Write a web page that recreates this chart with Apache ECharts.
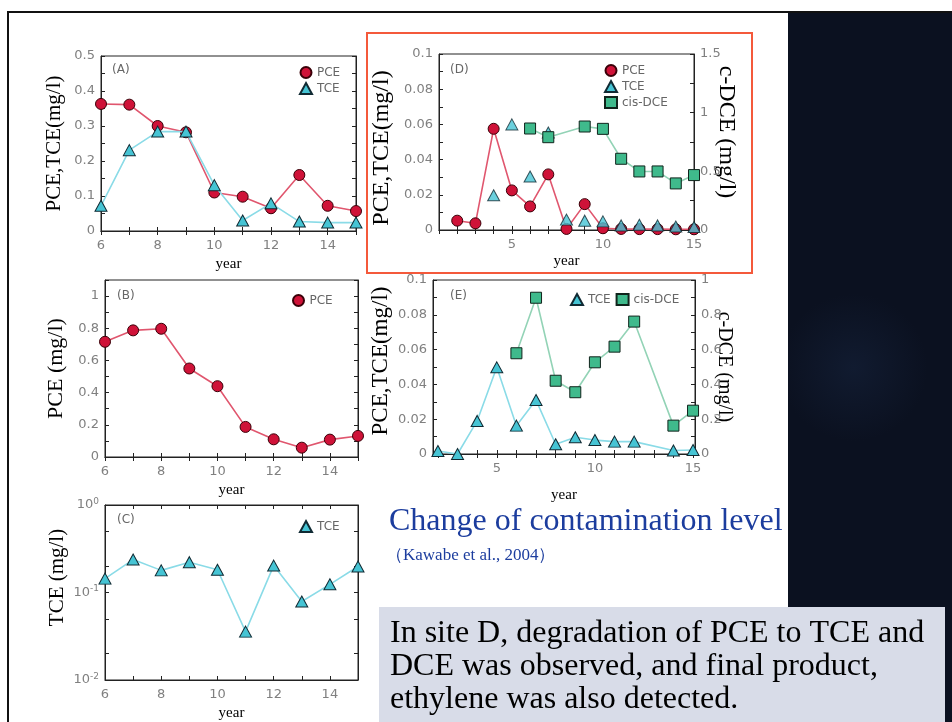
<!DOCTYPE html>
<html><head><meta charset="utf-8">
<script src="https://cdn.jsdelivr.net/npm/echarts@6/dist/echarts.min.js"></script>
<style>html,body{margin:0;padding:0;background:#fff}#c{width:952px;height:722px}</style>
</head><body><div id="c"></div>
<script>
// ---- data ----
const yearsA = [6,7,8,9,10,11,12,13,14,15];
const pceA = [0.363,0.361,0.300,0.282,0.110,0.098,0.065,0.160,0.072,0.057];
const tceA = [0.072,0.231,0.284,0.284,0.131,0.030,0.079,0.027,0.024,0.024];
const yearsB = [6,7,8,9,10,11,12,13,14,15];
const pceB = [0.716,0.787,0.797,0.550,0.440,0.187,0.110,0.058,0.108,0.131];
const yearsC = [6,7,8,9,10,11,12,13,14,15];
const tceC = [0.144,0.238,0.179,0.222,0.182,0.0357,0.203,0.0789,0.124,0.198];
const yearsDpce = [2,3,4,5,6,7,8,9,10,11,12,13,14,15];
const pceD = [0.0053,0.0038,0.0575,0.0225,0.0134,0.0316,0.0006,0.0147,0.0010,0.0006,0.0005,0.0005,0.0004,0.0004];
const yearsDtce = [4,5,6,7,8,9,10,11,12,13,14,15];
const tceD = [0.0197,0.0600,0.0304,0.0554,0.0059,0.0053,0.0049,0.0026,0.0030,0.0026,0.0020,0.0017];
const yearsDdce = [6,7,9,10,11,12,13,14,15];
const dceD = [0.865,0.791,0.882,0.862,0.607,0.499,0.499,0.397,0.468];
const yearsEtce = [2,3,4,5,6,7,8,9,10,11,12,14,15];
const tceE = [0.0017,0.0000,0.0190,0.0498,0.0163,0.0310,0.0056,0.0096,0.0080,0.0071,0.0071,0.0020,0.0023];
const yearsEdce = [6,7,8,9,10,11,12,14,15];
const dceE = [0.579,0.898,0.421,0.355,0.527,0.617,0.761,0.163,0.249];

const xLabA = [6,8,10,12,14];
const xLabD = [5,10,15];
const yLabA = [0,0.1,0.2,0.3,0.4,0.5];
const yLabB = [0,0.2,0.4,0.6,0.8,1];
const yLabC = [0.01,0.1,1];
const yLabDE = [0,0.02,0.04,0.06,0.08,0.1];
const yLabDr = [0,0.5,1,1.5];
const yLabEr = [0,0.2,0.4,0.6,0.8,1];

// ---- helpers ----
const steps = (a,b,s)=>{const r=[];for(let v=a;v<=b+1e-9;v+=s)r.push(+v.toFixed(4));return r;};
const zip = (xs,ys)=>xs.map((x,i)=>[x,ys[i]]);
const SANS = 'DejaVu Sans, Verdana, sans-serif';
const SERIF = 'Liberation Serif, Times New Roman, serif';
const lblStyle = {color:'#808080', fontSize:13, fontFamily:SANS};
const frame = '#222';

function xAxes(gi, min, max, tk, lb, gap){
  return [
    {type:'value', gridIndex:gi, min, max, position:'bottom',
     axisLine:{show:true, lineStyle:{color:frame}},
     axisTick:{show:true, inside:true, length:4, customValues:tk, lineStyle:{color:frame}},
     axisLabel:Object.assign({customValues:lb, margin:8}, lblStyle),
     splitLine:{show:false},
     name:'year', nameLocation:'middle', nameGap:gap, nameMoveOverlap:false,
     nameTextStyle:{fontFamily:SERIF, fontSize:15, color:'#000'}},
    {type:'value', gridIndex:gi, min, max, position:'top',
     axisLine:{show:true, lineStyle:{color:frame}},
     axisTick:{show:true, inside:true, length:4, customValues:tk, lineStyle:{color:frame}},
     axisLabel:{show:false}, splitLine:{show:false}}
  ];
}
function yAxis(gi, opt){
  const o = {type:opt.type||'value', gridIndex:gi, min:opt.min, max:opt.max, position:opt.pos,
    axisLine:{show:true, lineStyle:{color:frame}},
    axisTick:{show:true, inside:true, length:4, customValues:opt.tk, lineStyle:{color:frame}},
    axisLabel: opt.lb ? Object.assign({customValues:opt.lb, margin:opt.margin||6}, lblStyle, opt.fmt?{formatter:opt.fmt}:{}, opt.rich?{rich:opt.rich}:{}) : {show:false},
    splitLine:{show:false}};
  if (opt.type==='log') o.logBase = 10;
  if (opt.name){
    o.name = opt.name; o.nameLocation='middle'; o.nameGap=opt.gap; o.nameMoveOverlap=false;
    if (opt.rot!==undefined) o.nameRotate = opt.rot;
    o.nameTextStyle = {fontFamily:SERIF, fontSize:opt.fs||21, color:'#000',
      backgroundColor:opt.bg||'transparent', padding:opt.pad||0};
  }
  return o;
}

const C_PCE = '#cf1238', C_PCE_L = '#e0566e';
const C_TCE = '#46c4d4', C_TCE_L = '#8adbe7';
const C_DCE = '#3fba8c', C_DCE_L = '#93d3b6';

function pceSeries(xi, yi, data){
  return {type:'line', name:'PCE', xAxisIndex:xi, yAxisIndex:yi, data, clip:false,
    symbol:'circle', symbolSize:11,
    itemStyle:{color:C_PCE, borderColor:'#3a0008', borderWidth:1},
    lineStyle:{color:C_PCE_L, width:1.6}, z:3};
}
function tceSeries(xi, yi, data, noLine){
  return {type:noLine?'scatter':'line', name:'TCE', xAxisIndex:xi, yAxisIndex:yi, data, clip:false,
    symbol:'triangle', symbolSize:[12,11],
    itemStyle:{color:C_TCE, borderColor:'#102a33', borderWidth:1},
    lineStyle:{color:C_TCE_L, width:1.6}, z:4};
}
function dceSeries(xi, yi, data){
  return {type:'line', name:'cis-DCE', xAxisIndex:xi, yAxisIndex:yi, data, clip:false,
    symbol:'rect', symbolSize:11,
    itemStyle:{color:C_DCE, borderColor:'#10241c', borderWidth:1},
    lineStyle:{color:C_DCE_L, width:1.6}, z:5};
}

const gridBase = {show:true, borderColor:frame, borderWidth:1, backgroundColor:'transparent', containLabel:false};
const grids = [
  Object.assign({left:101, top:56, width:255, height:175}, gridBase), // A
  Object.assign({left:105, top:280, width:253, height:177}, gridBase), // B
  Object.assign({left:105, top:505, width:253, height:178}, gridBase), // C
  Object.assign({left:439, top:54, width:255, height:176}, gridBase), // D
  Object.assign({left:433, top:280, width:262, height:174}, gridBase)  // E
];

const xAxisArr = [].concat(
  xAxes(0, 6, 15, steps(6,15,1), xLabA, 26),
  xAxes(1, 6, 15, steps(6,15,1), xLabA, 26),
  xAxes(2, 6, 15, steps(6,15,1), xLabA, 26),
  xAxes(3, 1, 15, steps(1,15,1), xLabD, 24),
  xAxes(4, 1.75, 15.1, steps(2,15,1), xLabD, 34)
);
const supFmt = v => '10{s|' + Math.round(Math.log10(v)) + '}';
const yAxisArr = [
  yAxis(0,{min:0,max:0.5,pos:'left',tk:steps(0,0.5,0.05),lb:yLabA,name:'PCE,TCE(mg/l)',gap:36}), //0
  yAxis(0,{min:0,max:0.5,pos:'right',tk:steps(0,0.5,0.05)}), //1
  yAxis(1,{min:0,max:1.1,pos:'left',tk:steps(0,1.1,0.1),lb:yLabB,name:'PCE (mg/l)',gap:38,fs:22}), //2
  yAxis(1,{min:0,max:1.1,pos:'right',tk:steps(0,1.1,0.1)}), //3
  yAxis(2,{type:'log',min:0.01,max:1,pos:'left',tk:[0.01,0.02,0.05,0.1,0.2,0.5,1],lb:yLabC,fmt:supFmt,
    rich:{s:{fontSize:9,color:'#808080',fontFamily:SANS,verticalAlign:'top',padding:[0,0,7,0]}},
    name:'TCE (mg/l)',gap:37,pad:[0,0,0,30]}), //4
  yAxis(2,{type:'log',min:0.01,max:1,pos:'right',tk:[0.01,0.02,0.05,0.1,0.2,0.5,1]}), //5
  yAxis(3,{min:0,max:0.1,pos:'left',tk:steps(0,0.1,0.01),lb:yLabDE,name:'PCE,TCE(mg/l)',gap:45,fs:24,pad:[0,12,0,0]}), //6
  yAxis(3,{min:0,max:1.5,pos:'right',tk:steps(0,1.5,0.25),lb:yLabDr,name:'c-DCE (mg/l)',gap:20,rot:-90,bg:'#fff',fs:24,pad:[0,20,0,0]}), //7
  yAxis(4,{min:0,max:0.1,pos:'left',tk:steps(0,0.1,0.01),lb:yLabDE,name:'PCE,TCE(mg/l)',gap:41,fs:23,pad:[0,0,0,12]}), //8
  yAxis(4,{min:0,max:1,pos:'right',tk:steps(0,1,0.1),lb:yLabEr,name:'c-DCE (mg/l)',gap:19,rot:-90,bg:'#fff',fs:20}) //9
];

const series = [
  pceSeries(0,0,zip(yearsA,pceA)),
  tceSeries(0,0,zip(yearsA,tceA)),
  pceSeries(2,2,zip(yearsB,pceB)),
  tceSeries(4,4,zip(yearsC,tceC)),
  pceSeries(6,6,zip(yearsDpce,pceD)),
  tceSeries(6,6,zip(yearsDtce,tceD),true),
  dceSeries(6,7,zip(yearsDdce,dceD)),
  tceSeries(8,8,zip(yearsEtce,tceE)),
  dceSeries(8,9,zip(yearsEdce,dceE))
];

const legTxt = {color:'#666', fontSize:12, fontFamily:SANS};
const legBase = {orient:'vertical', itemWidth:12, itemHeight:11, itemGap:3, selectedMode:false, textStyle:legTxt, padding:0};
const legends = [
  Object.assign({}, legBase, {left:299, top:66, data:[{name:'PCE',icon:'circle'},{name:'TCE',icon:'triangle'}]}),
  Object.assign({}, legBase, {left:292, top:294, data:[{name:'PCE',icon:'circle'}]}),
  Object.assign({}, legBase, {left:299, top:520, data:[{name:'TCE',icon:'triangle'}]}),
  Object.assign({}, legBase, {left:604, top:64, data:[{name:'PCE',icon:'circle'},{name:'TCE',icon:'triangle'},{name:'cis-DCE',icon:'rect'}]}),
  Object.assign({}, legBase, {orient:'horizontal', itemGap:5, left:570, top:293, data:[{name:'TCE',icon:'triangle'},{name:'cis-DCE',icon:'rect'}]})
];

const panelLbl = (t,x,y)=>({type:'text', left:x, top:y, z:10, style:{text:t, fill:'#666', font:'12px '+SANS}});
const graphic = [
  {type:'rect', z:-1, shape:{x:788,y:13,width:164,height:709}, style:{fill:new echarts.graphic.RadialGradient(0.4,0.5,0.45,[{offset:0,color:'#111b30'},{offset:1,color:'#0b1120'}])}},
  {type:'rect', z:-1, shape:{x:7,y:11,width:945,height:2}, style:{fill:'#111'}},
  {type:'rect', z:-1, shape:{x:7,y:11,width:2,height:711}, style:{fill:'#111'}},
  {type:'rect', z:-1, shape:{x:379,y:607,width:566,height:115}, style:{fill:'#d8dce8'}},
  {type:'rect', z:20, shape:{x:367,y:33,width:385,height:240}, style:{fill:'none', stroke:'#f4593b', lineWidth:2}},
  panelLbl('(A)',112,64), panelLbl('(B)',117,290), panelLbl('(C)',117,514),
  panelLbl('(D)',450,64), panelLbl('(E)',450,290),
  {type:'text', left:389, top:506, style:{text:'Change of contamination level', fill:'#1c3d9e', font:'32px '+SERIF}},
  {type:'text', left:386, top:547, style:{text:'（Kawabe et al., 2004）', fill:'#1c3d9e', font:'17px '+SERIF}},
  {type:'text', left:390, top:617, style:{text:'In site D, degradation of PCE to TCE and\nDCE was observed, and final product,\nethylene was also detected.', fill:'#000', font:'32px '+SERIF, lineHeight:33}}
];

const chart = echarts.init(document.getElementById('c'), null, {renderer:'canvas'});
chart.setOption({
  animation:false, backgroundColor:'#fff',
  grid:grids, xAxis:xAxisArr, yAxis:yAxisArr, series, legend:legends, graphic
});
</script></body></html>
